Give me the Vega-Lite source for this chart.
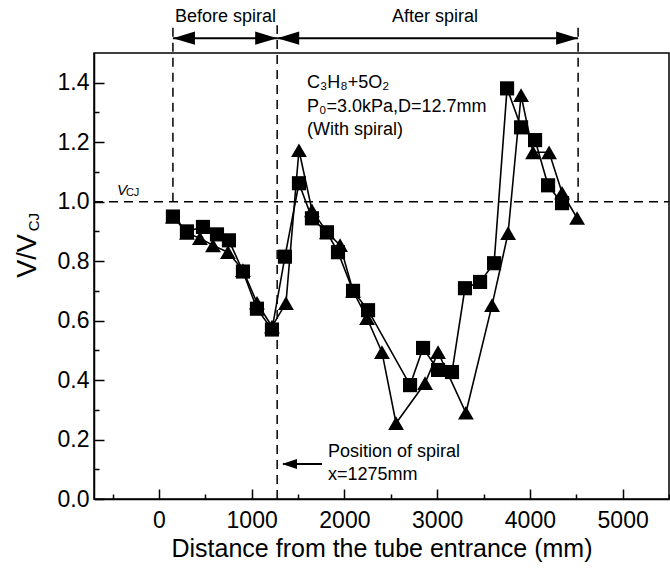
{
  "$schema": "https://vega.github.io/schema/vega-lite/v6.json",
  "width": 575,
  "height": 446,
  "autosize": {"type": "none"},
  "padding": {"left": 94, "top": 53, "right": 1, "bottom": 74},
  "background": "white",
  "config": {
    "font": "Liberation Sans",
    "view": {"stroke": "black", "strokeWidth": 1.5},
    "axis": {
      "grid": false,
      "domainColor": "black",
      "domainWidth": 1.5,
      "tickColor": "black",
      "tickWidth": 1.5,
      "labelColor": "black",
      "labelFont": "Liberation Sans",
      "labelFontSize": 23,
      "titleFont": "Liberation Sans",
      "titleColor": "black",
      "titleFontSize": 25,
      "titleFontWeight": "normal"
    }
  },
  "datasets": {
    "pts": [
      {"x": 151, "v": 0.95, "s": "square"},
      {"x": 302, "v": 0.90, "s": "square"},
      {"x": 475, "v": 0.915, "s": "square"},
      {"x": 626, "v": 0.89, "s": "square"},
      {"x": 755, "v": 0.87, "s": "square"},
      {"x": 906, "v": 0.765, "s": "square"},
      {"x": 1057, "v": 0.64, "s": "square"},
      {"x": 1219, "v": 0.57, "s": "square"},
      {"x": 1359, "v": 0.815, "s": "square"},
      {"x": 1510, "v": 1.062, "s": "square"},
      {"x": 1650, "v": 0.944, "s": "square"},
      {"x": 1812, "v": 0.897, "s": "square"},
      {"x": 1931, "v": 0.83, "s": "square"},
      {"x": 2093, "v": 0.70, "s": "square"},
      {"x": 2255, "v": 0.635, "s": "square"},
      {"x": 2708, "v": 0.383, "s": "square"},
      {"x": 2848, "v": 0.508, "s": "square"},
      {"x": 3010, "v": 0.434, "s": "square"},
      {"x": 3160, "v": 0.427, "s": "square"},
      {"x": 3300, "v": 0.709, "s": "square"},
      {"x": 3463, "v": 0.73, "s": "square"},
      {"x": 3614, "v": 0.793, "s": "square"},
      {"x": 3754, "v": 1.381, "s": "square"},
      {"x": 3905, "v": 1.25, "s": "square"},
      {"x": 4056, "v": 1.207, "s": "square"},
      {"x": 4196, "v": 1.055, "s": "square"},
      {"x": 4347, "v": 0.995, "s": "square"},
      {"x": 151, "v": 0.95, "s": "triangle"},
      {"x": 302, "v": 0.895, "s": "triangle"},
      {"x": 442, "v": 0.877, "s": "triangle"},
      {"x": 583, "v": 0.853, "s": "triangle"},
      {"x": 744, "v": 0.83, "s": "triangle"},
      {"x": 906, "v": 0.77, "s": "triangle"},
      {"x": 1057, "v": 0.66, "s": "triangle"},
      {"x": 1219, "v": 0.58, "s": "triangle"},
      {"x": 1370, "v": 0.659, "s": "triangle"},
      {"x": 1510, "v": 1.173, "s": "triangle"},
      {"x": 1650, "v": 0.971, "s": "triangle"},
      {"x": 1812, "v": 0.897, "s": "triangle"},
      {"x": 1953, "v": 0.854, "s": "triangle"},
      {"x": 2093, "v": 0.70, "s": "triangle"},
      {"x": 2244, "v": 0.608, "s": "triangle"},
      {"x": 2405, "v": 0.494, "s": "triangle"},
      {"x": 2557, "v": 0.255, "s": "triangle"},
      {"x": 2870, "v": 0.39, "s": "triangle"},
      {"x": 3010, "v": 0.494, "s": "triangle"},
      {"x": 3310, "v": 0.29, "s": "triangle"},
      {"x": 3592, "v": 0.652, "s": "triangle"},
      {"x": 3765, "v": 0.894, "s": "triangle"},
      {"x": 3905, "v": 1.358, "s": "triangle"},
      {"x": 4034, "v": 1.166, "s": "triangle"},
      {"x": 4207, "v": 1.166, "s": "triangle"},
      {"x": 4347, "v": 1.03, "s": "triangle"},
      {"x": 4509, "v": 0.945, "s": "triangle"}
    ],
    "guides": [
      {"x": -700, "x2": 5500, "y": 1.0, "y2": 1.0, "kind": "dash"},
      {"x": 151, "x2": 151, "y": 1.0, "y2": 1.593, "kind": "dash"},
      {"x": 1275, "x2": 1275, "y": 0, "y2": 1.593, "kind": "dash"},
      {"x": 4520, "x2": 4520, "y": 1.0, "y2": 1.593, "kind": "dash"},
      {"x": 151, "x2": 1275, "y": 1.55, "y2": 1.55, "kind": "solid"},
      {"x": 1275, "x2": 4520, "y": 1.55, "y2": 1.55, "kind": "solid"},
      {"x": 1340, "x2": 1758, "y": 0.118, "y2": 0.118, "kind": "solid"}
    ],
    "heads": [
      {"x": 151, "y": 1.55, "dir": "left", "grp": "big"},
      {"x": 1275, "y": 1.55, "dir": "right", "grp": "big"},
      {"x": 1275, "y": 1.55, "dir": "left", "grp": "big"},
      {"x": 4520, "y": 1.55, "dir": "right", "grp": "big"},
      {"x": 1327, "y": 0.118, "dir": "left", "grp": "small"}
    ],
    "texts": [
      {"x": 1597, "y": 1.398, "t": "C₃H₈+5O₂"},
      {"x": 1597, "y": 1.318, "t": "P₀=3.0kPa,D=12.7mm"},
      {"x": 1597, "y": 1.240, "t": "(With spiral)"},
      {"x": 1823, "y": 0.158, "t": "Position of spiral"},
      {"x": 1823, "y": 0.081, "t": "x=1275mm"},
      {"x": 173, "y": 1.62, "t": "Before spiral"},
      {"x": 2513, "y": 1.62, "t": "After spiral"}
    ]
  },
  "resolve": {"axis": {"x": "independent", "y": "independent"}},
  "layer": [
    {
      "data": {"name": "guides"},
      "transform": [{"filter": "datum.kind === 'dash'"}],
      "mark": {"type": "rule", "color": "black", "strokeWidth": 1.5, "strokeDash": [9, 6]},
      "encoding": {
        "x": {"field": "x", "type": "quantitative", "scale": {"domain": [-700, 5500], "nice": false, "zero": false},
          "axis": {"orient": "bottom", "values": [-500, 500, 1500, 2500, 3500, 4500, 5500], "tickSize": -5, "labels": false, "domain": false, "title": null}},
        "x2": {"field": "x2"},
        "y": {"field": "y", "type": "quantitative", "scale": {"domain": [0, 1.5], "nice": false},
          "axis": {"orient": "left", "values": [0.1, 0.3, 0.5, 0.7, 0.9, 1.1, 1.3], "tickSize": -5, "labels": false, "domain": false, "title": null}},
        "y2": {"field": "y2"}
      }
    },
    {
      "data": {"name": "guides"},
      "transform": [{"filter": "datum.kind === 'solid'"}],
      "mark": {"type": "rule", "color": "black", "strokeWidth": 2},
      "encoding": {
        "x": {"field": "x", "type": "quantitative", "axis": null},
        "x2": {"field": "x2"},
        "y": {"field": "y", "type": "quantitative", "axis": null},
        "y2": {"field": "y2"}
      }
    },
    {
      "data": {"name": "heads"},
      "transform": [{"filter": "datum.dir === 'right' && datum.grp === 'big'"}],
      "mark": {"type": "point", "shape": "M0,0L-2,-0.6L-2,0.6Z", "filled": true, "color": "black", "opacity": 1, "size": 484},
      "encoding": {
        "x": {"field": "x", "type": "quantitative", "axis": null},
        "y": {"field": "y", "type": "quantitative", "axis": null}
      }
    },
    {
      "data": {"name": "heads"},
      "transform": [{"filter": "datum.dir === 'left' && datum.grp === 'big'"}],
      "mark": {"type": "point", "shape": "M0,0L2,-0.6L2,0.6Z", "filled": true, "color": "black", "opacity": 1, "size": 484},
      "encoding": {
        "x": {"field": "x", "type": "quantitative", "axis": null},
        "y": {"field": "y", "type": "quantitative", "axis": null}
      }
    },
    {
      "data": {"name": "heads"},
      "transform": [{"filter": "datum.grp === 'small'"}],
      "mark": {"type": "point", "shape": "M0,0L2,-0.67L2,0.67Z", "filled": true, "color": "black", "opacity": 1, "size": 225},
      "encoding": {
        "x": {"field": "x", "type": "quantitative", "axis": null},
        "y": {"field": "y", "type": "quantitative", "axis": null}
      }
    },
    {
      "data": {"name": "pts"},
      "mark": {"type": "line", "color": "black", "strokeWidth": 1.6},
      "encoding": {
        "x": {"field": "x", "type": "quantitative",
          "axis": {"orient": "bottom", "values": [0, 1000, 2000, 3000, 4000, 5000], "format": "d", "tickSize": -10, "labelPadding": 20, "title": "Distance from the tube entrance (mm)", "titlePadding": 4}},
        "y": {"field": "v", "type": "quantitative",
          "axis": {"orient": "left", "values": [0, 0.2, 0.4, 0.6, 0.8, 1.0, 1.2, 1.4], "format": ".1f", "tickSize": -10, "labelPadding": 15, "title": null}},
        "detail": {"field": "s"},
        "order": {"field": "x", "type": "quantitative"}
      }
    },
    {
      "data": {"name": "pts"},
      "mark": {"type": "point", "filled": true, "color": "black", "opacity": 1},
      "encoding": {
        "x": {"field": "x", "type": "quantitative", "axis": null},
        "y": {"field": "v", "type": "quantitative", "axis": null},
        "shape": {"field": "s", "type": "nominal", "scale": {"domain": ["square", "triangle"], "range": ["square", "triangle-up"]}, "legend": null},
        "size": {"field": "s", "type": "nominal", "scale": {"domain": ["square", "triangle"], "range": [200, 250]}, "legend": null}
      }
    },
    {
      "data": {"name": "texts"},
      "mark": {"type": "text", "align": "left", "baseline": "middle", "fontSize": 18, "color": "black", "font": "Liberation Sans"},
      "encoding": {
        "x": {"field": "x", "type": "quantitative", "axis": null},
        "y": {"field": "y", "type": "quantitative", "axis": null},
        "text": {"field": "t"}
      }
    },
    {
      "data": {"values": [{"x": -453, "y": 1.039, "t": "V"}]},
      "mark": {"type": "text", "align": "left", "baseline": "middle", "fontSize": 15, "fontStyle": "italic", "color": "black"},
      "encoding": {
        "x": {"field": "x", "type": "quantitative", "axis": null},
        "y": {"field": "y", "type": "quantitative", "axis": null},
        "text": {"field": "t"}
      }
    },
    {
      "data": {"values": [{"x": -356, "y": 1.03, "t": "CJ"}]},
      "mark": {"type": "text", "align": "left", "baseline": "middle", "fontSize": 11, "color": "black"},
      "encoding": {
        "x": {"field": "x", "type": "quantitative", "axis": null},
        "y": {"field": "y", "type": "quantitative", "axis": null},
        "text": {"field": "t"}
      }
    },
    {
      "data": {"values": [{"x": -1413, "y": 0.817, "t": "V/V"}]},
      "mark": {"type": "text", "align": "center", "baseline": "middle", "fontSize": 27, "angle": 270, "color": "black"},
      "encoding": {
        "x": {"field": "x", "type": "quantitative", "axis": null},
        "y": {"field": "y", "type": "quantitative", "axis": null},
        "text": {"field": "t"}
      }
    },
    {
      "data": {"values": [{"x": -1348, "y": 0.931, "t": "CJ"}]},
      "mark": {"type": "text", "align": "center", "baseline": "middle", "fontSize": 15, "angle": 270, "color": "black"},
      "encoding": {
        "x": {"field": "x", "type": "quantitative", "axis": null},
        "y": {"field": "y", "type": "quantitative", "axis": null},
        "text": {"field": "t"}
      }
    }
  ]
}
